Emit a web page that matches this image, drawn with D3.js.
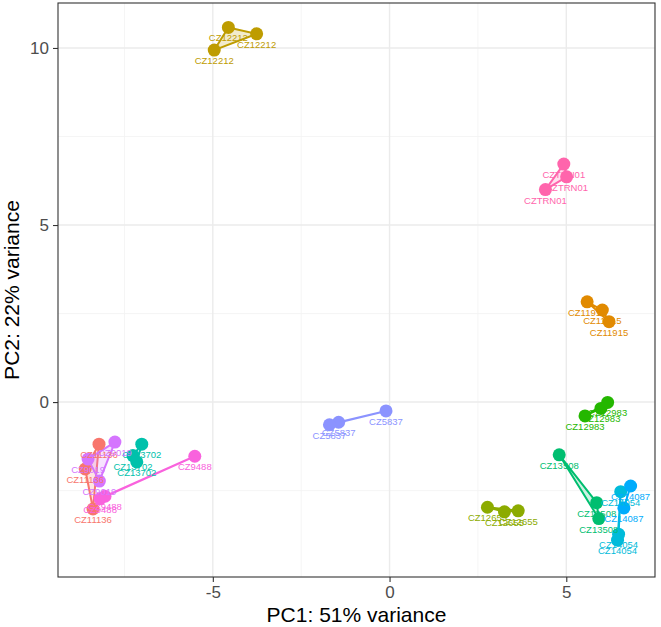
<!DOCTYPE html>
<html>
<head>
<meta charset="utf-8">
<script src="https://cdn.jsdelivr.net/npm/d3@7"></script>
<style>
  html, body { margin: 0; padding: 0; background: #ffffff; }
  svg { display: block; }
  text { font-family: "Liberation Sans", Arial, sans-serif; }
</style>
</head>
<body>
<svg id="chart" width="661" height="627"></svg>
<script>
// ---- DATA ----
const groups = ["CZ11136","CZ11915","CZ12212","CZ12655","CZ12983","CZ13508","CZ13702","CZ14054","CZ14087","CZ5837","CZ9019","CZ9488","CZTRN01"];
const groupColors = ["#F8766D","#E18A00","#BE9C00","#8CAB00","#24B700","#00BE70","#00C1AB","#00BBDA","#00ACFC","#8B93FF","#D575FE","#F962DD","#FF65AC"];
const sampleGroup = [
  "CZ11136","CZ11136","CZ11136",
  "CZ11915","CZ11915","CZ11915",
  "CZ12212","CZ12212","CZ12212",
  "CZ12655","CZ12655","CZ12655",
  "CZ12983","CZ12983","CZ12983",
  "CZ13508","CZ13508","CZ13508",
  "CZ13702","CZ13702","CZ13702",
  "CZ14054","CZ14054","CZ14054",
  "CZ14087","CZ14087",
  "CZ5837","CZ5837","CZ5837",
  "CZ9019","CZ9019","CZ9019",
  "CZ9488","CZ9488","CZ9488",
  "CZTRN01","CZTRN01","CZTRN01"
];
const pc1 = [
  -8.22,-8.61,-8.39,
  5.59,6.02,6.21,
  -4.96,-4.56,-3.76,
  2.77,3.25,3.64,
  5.53,5.98,6.17,
  4.80,5.86,5.92,
  -7.01,-7.26,-7.15,
  6.54,6.48,6.45,
  6.82,6.63,
  -0.10,-1.44,-1.70,
  -7.77,-8.53,-8.21,
  -5.51,-8.05,-8.19,
  4.93,5.01,4.41
];
const pc2 = [
  -1.19,-1.89,-3.02,
  2.83,2.60,2.27,
  9.94,10.58,10.40,
  -2.97,-3.10,-3.07,
  -0.39,-0.18,-0.01,
  -1.49,-2.84,-3.29,
  -1.19,-1.51,-1.69,
  -2.53,-3.73,-3.90,
  -2.37,-2.99,
  -0.25,-0.57,-0.64,
  -1.13,-1.61,-2.23,
  -1.53,-2.66,-2.73,
  6.72,6.36,6.00
];
const xTicks = [-5, 0, 5];
const yTicks = [0, 5, 10];
const xMinor = [-7.5, -2.5, 2.5, 7.5];
const yMinor = [-2.5, 2.5, 7.5];
const xTitle = "PC1: 51% variance";
const yTitle = "PC2: 22% variance";

// ---- LAYOUT ----
const svg = d3.select("#chart");
const panel = {left: 58, right: 655, top: 3, bottom: 577};
const x = d3.scaleLinear().domain([-9.38, 7.51]).range([panel.left, panel.right]);
const y = d3.scaleLinear().domain([-4.94, 11.27]).range([panel.bottom, panel.top]);
const color = d3.scaleOrdinal().domain(groups).range(groupColors);

const samples = sampleGroup.map((g, i) => ({group: g, pc1: pc1[i], pc2: pc2[i]}));

// clip
svg.append("defs").append("clipPath").attr("id", "clip")
  .append("rect").attr("x", panel.left).attr("y", panel.top)
  .attr("width", panel.right - panel.left).attr("height", panel.bottom - panel.top);

// background
svg.append("rect").attr("x", panel.left).attr("y", panel.top)
  .attr("width", panel.right - panel.left).attr("height", panel.bottom - panel.top)
  .attr("fill", "#ffffff");

const grid = svg.append("g").attr("clip-path", "url(#clip)");
grid.selectAll(".xminor").data(xMinor).join("line")
  .attr("x1", d => x(d)).attr("x2", d => x(d)).attr("y1", panel.top).attr("y2", panel.bottom)
  .attr("stroke", "#F2F2F2").attr("stroke-width", 0.8);
grid.selectAll(".yminor").data(yMinor).join("line")
  .attr("y1", d => y(d)).attr("y2", d => y(d)).attr("x1", panel.left).attr("x2", panel.right)
  .attr("stroke", "#F2F2F2").attr("stroke-width", 0.8);
grid.selectAll(".xmajor").data(xTicks).join("line")
  .attr("x1", d => x(d)).attr("x2", d => x(d)).attr("y1", panel.top).attr("y2", panel.bottom)
  .attr("stroke", "#EBEBEB").attr("stroke-width", 1.4);
grid.selectAll(".ymajor").data(yTicks).join("line")
  .attr("y1", d => y(d)).attr("y2", d => y(d)).attr("x1", panel.left).attr("x2", panel.right)
  .attr("stroke", "#EBEBEB").attr("stroke-width", 1.4);

// polygons
const plot = svg.append("g").attr("clip-path", "url(#clip)");
const byGroup = d3.groups(samples, d => d.group);
plot.selectAll(".poly").data(byGroup).join("path")
  .attr("d", d => "M" + d[1].map(s => x(s.pc1) + "," + y(s.pc2)).join("L") + "Z")
  .attr("fill", d => color(d[0])).attr("fill-opacity", 0.2)
  .attr("stroke", d => color(d[0])).attr("stroke-width", 2)
  .attr("stroke-linejoin", "round");

// points
plot.selectAll(".pt").data(samples).join("circle")
  .attr("cx", d => x(d.pc1)).attr("cy", d => y(d.pc2)).attr("r", 6.5)
  .attr("fill", d => color(d.group));

// labels
plot.selectAll(".lbl").data(samples).join("text")
  .attr("x", d => x(d.pc1)).attr("y", d => y(d.pc2) + 14)
  .attr("text-anchor", "middle").attr("font-size", 9.5)
  .attr("fill", d => color(d.group)).text(d => d.group);

// border
svg.append("rect").attr("x", panel.left).attr("y", panel.top)
  .attr("width", panel.right - panel.left).attr("height", panel.bottom - panel.top)
  .attr("fill", "none").attr("stroke", "#333333").attr("stroke-width", 1.1);

// axes
const xAxis = svg.append("g").attr("transform", `translate(0,${panel.bottom})`)
  .call(d3.axisBottom(x).tickValues(xTicks).tickSize(5).tickPadding(4).tickFormat(d3.format("d")));
const yAxis = svg.append("g").attr("transform", `translate(${panel.left},0)`)
  .call(d3.axisLeft(y).tickValues(yTicks).tickSize(5).tickPadding(4).tickFormat(d3.format("d")));
[xAxis, yAxis].forEach(a => {
  a.select(".domain").remove();
  a.selectAll(".tick line").attr("stroke", "#333333").attr("stroke-width", 1.1);
  a.selectAll(".tick text").attr("fill", "#4D4D4D").attr("font-size", 17)
    .attr("font-family", "Liberation Sans, Arial, sans-serif");
});
xAxis.selectAll(".tick text").text(d => d < 0 ? "-" + Math.abs(d) : d);

svg.append("text").attr("x", (panel.left + panel.right) / 2).attr("y", 622)
  .attr("text-anchor", "middle").attr("font-size", 21).attr("fill", "#000").text(xTitle);
svg.append("text").attr("transform", `translate(19,${(panel.top + panel.bottom) / 2}) rotate(-90)`)
  .attr("text-anchor", "middle").attr("font-size", 21).attr("fill", "#000").text(yTitle);
</script>
</body>
</html>
